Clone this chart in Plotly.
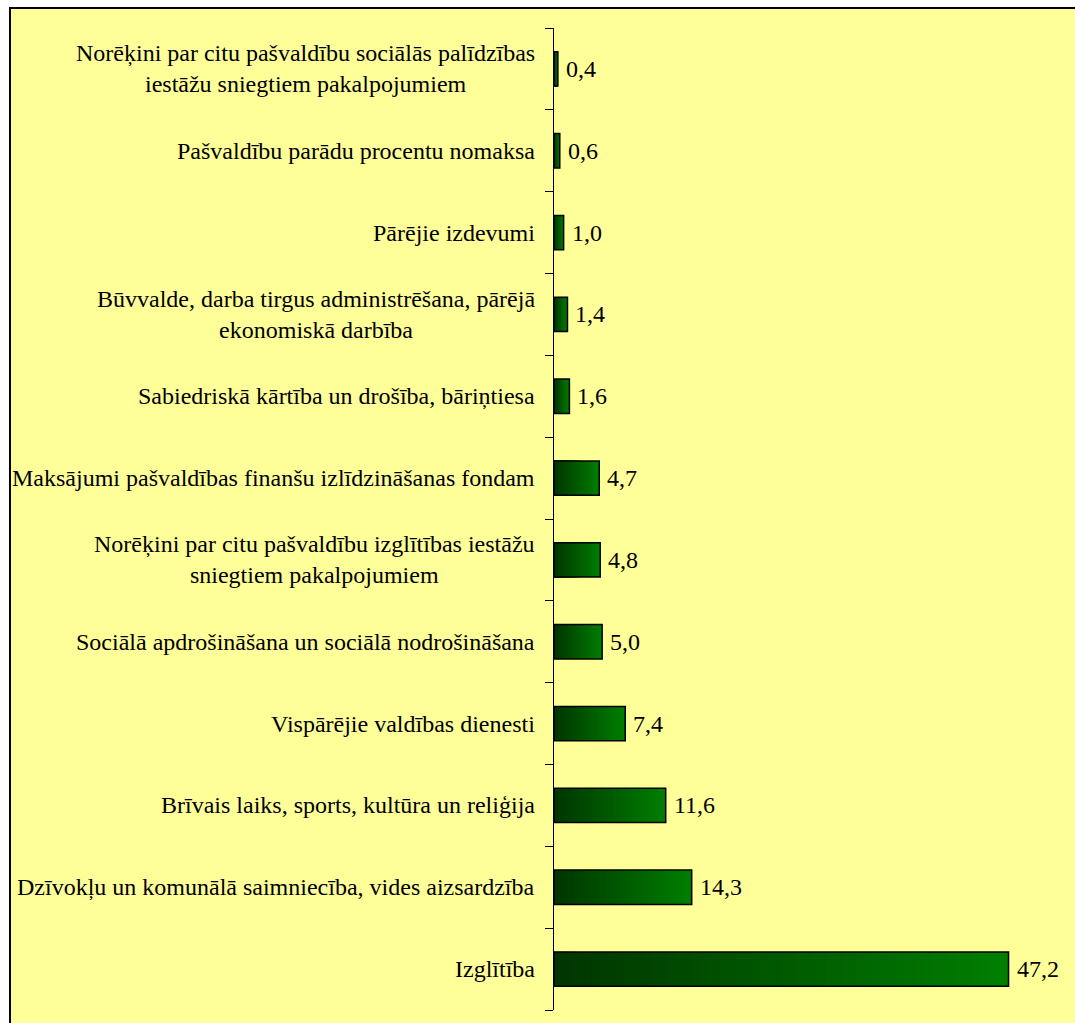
import plotly.graph_objects as go

# Data (bottom to top as drawn)
categories = [
    "Izglītība",
    "Dzīvokļu un komunālā saimniecība, vides aizsardzība",
    "Brīvais laiks, sports, kultūra un reliģija",
    "Vispārējie valdības dienesti",
    "Sociālā apdrošināšana un sociālā nodrošināšana",
    "Norēķini par citu pašvaldību izglītības iestāžu sniegtiem pakalpojumiem",
    "Maksājumi pašvaldības finanšu izlīdzināšanas fondam",
    "Sabiedriskā kārtība un drošība, bāriņtiesa",
    "Būvvalde, darba tirgus administrēšana, pārējā ekonomiskā darbība",
    "Pārējie izdevumi",
    "Pašvaldību parādu procentu nomaksa",
    "Norēķini par citu pašvaldību sociālās palīdzības iestāžu sniegtiem pakalpojumiem",
]
labels = [
    "Izglītība",
    "Dzīvokļu un komunālā saimniecība, vides aizsardzība",
    "Brīvais laiks, sports, kultūra un reliģija",
    "Vispārējie valdības dienesti",
    "Sociālā apdrošināšana un sociālā nodrošināšana",
    "Norēķini par citu pašvaldību izglītības iestāžu<br>sniegtiem pakalpojumiem",
    "Maksājumi pašvaldības finanšu izlīdzināšanas fondam",
    "Sabiedriskā kārtība un drošība, bāriņtiesa",
    "Būvvalde, darba tirgus administrēšana, pārējā<br>ekonomiskā darbība",
    "Pārējie izdevumi",
    "Pašvaldību parādu procentu nomaksa",
    "Norēķini par citu pašvaldību sociālās palīdzības<br>iestāžu sniegtiem pakalpojumiem",
]
values = [47.2, 14.3, 11.6, 7.4, 5.0, 4.8, 4.7, 1.6, 1.4, 1.0, 0.6, 0.4]

FONT = "Liberation Serif"
FS = 24
BG = "#FFFF99"
DARK = (0, 52, 0)
LIGHT = (0, 126, 0)
N = 60
BARW = 0.42

fig = go.Figure()

# Gradient fill: overlaid bars of decreasing length, dark on top at the left
for k in range(N):
    t = 1 - k / N
    c = tuple(int(round(DARK[i] + (LIGHT[i] - DARK[i]) * t)) for i in range(3))
    fig.add_trace(go.Bar(
        x=[v * (N - k) / N for v in values],
        y=categories,
        orientation="h",
        width=BARW,
        marker=dict(color="rgb(%d,%d,%d)" % c, line=dict(width=0)),
        hoverinfo="skip",
        showlegend=False,
    ))

# Outline
fig.add_trace(go.Bar(
    x=values, y=categories, orientation="h", width=BARW,
    marker=dict(color="rgba(0,0,0,0)", line=dict(color="black", width=1.5)),
    hoverinfo="skip", showlegend=False,
))

W, H = 1075, 1023
L, R, T, B = 554, 0, 28, 13
pw = W - L - R
ph = H - T - B
px_per_unit = 9.63

def px2paper_x(px):
    return (px - L) / pw

def py2paper_y(py):
    return 1 - (py - T) / ph

shapes = [dict(
    type="rect", xref="paper", yref="paper",
    x0=px2paper_x(10), x1=px2paper_x(1110),
    y0=py2paper_y(1070), y1=py2paper_y(8),
    fillcolor=BG, line=dict(color="black", width=2), layer="below",
)]

annotations = []
for cat, lab in zip(categories, labels):
    annotations.append(dict(
        x=0, xref="paper", y=cat, yref="y", text=lab, showarrow=False,
        xanchor="right", yanchor="middle", align="center", xshift=-17,
        font=dict(family=FONT, size=FS, color="black"),
    ))
for cat, v in zip(categories, values):
    annotations.append(dict(
        x=v, xref="x", y=cat, yref="y", text=("%.1f" % v).replace(".", ","),
        showarrow=False, xanchor="left", yanchor="middle", xshift=6,
        font=dict(family=FONT, size=FS, color="black"),
    ))

fig.update_layout(
    width=W, height=H,
    margin=dict(l=L, r=R, t=T, b=B, pad=0),
    barmode="overlay",
    paper_bgcolor="white",
    plot_bgcolor="rgba(0,0,0,0)",
    shapes=shapes,
    annotations=annotations,
    showlegend=False,
    hovermode=False,
    font=dict(family=FONT, size=FS, color="black"),
    xaxis=dict(visible=False, range=[0, pw / px_per_unit], fixedrange=True),
    yaxis=dict(
        type="category", categoryorder="array", categoryarray=categories,
        showticklabels=False, ticks="outside", ticklen=8, tickcolor="black",
        tickwidth=1, tickson="boundaries",
        showline=True, linecolor="black", linewidth=1,
        showgrid=False, zeroline=False, fixedrange=True,
        range=[-0.5, len(categories) - 0.5],
    ),
)

fig.write_html(
    "out.html",
    config={"displayModeBar": False, "staticPlot": True},
    post_script="document.body.style.margin='0';document.body.style.overflow='hidden';",
)
